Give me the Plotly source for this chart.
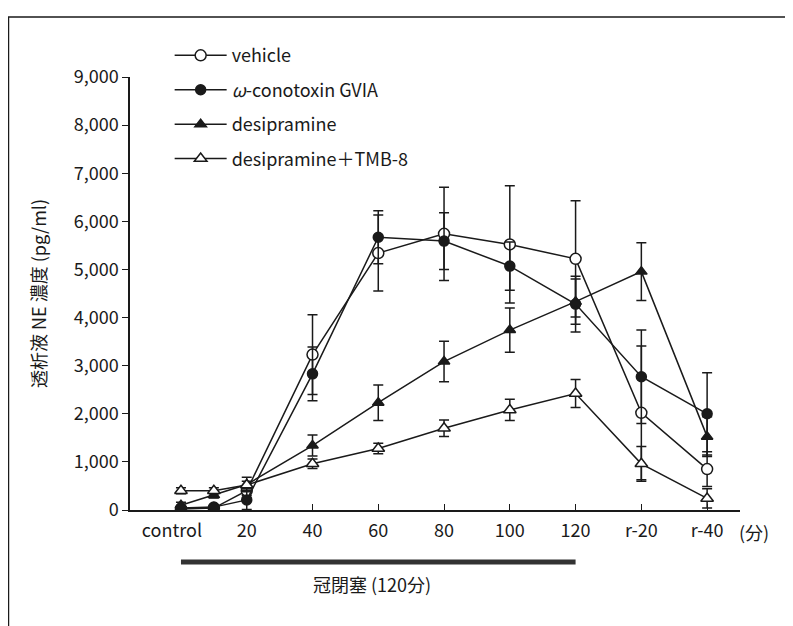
import plotly.graph_objects as go

# ---- data ----
times = [0, 10, 20, 40, 60, 80, 100, 120, 140, 160]
tick_vals = [0, 20, 40, 60, 80, 100, 120, 140, 160]
tick_text = ["control\u2002\u2002", "20", "40", "60", "80", "100", "120", "r-20", "r-40"]

vehicle = [20, 40, 400, 3230, 5340, 5740, 5520, 5220, 2020, 850]
vehicle_err = [40, 40, 100, 830, 790, 970, 1220, 1210, 1390, 360]

conotoxin = [40, 60, 210, 2830, 5670, 5590, 5070, 4280, 2770, 2000]
conotoxin_err = [40, 40, 200, 560, 550, 590, 500, 580, 970, 855]

desipramine = [100, 310, 530, 1340, 2230, 3085, 3740, 4330, 4955, 1525]
desipramine_err = [60, 60, 150, 220, 370, 420, 460, 470, 600, 415]

desi_tmb = [400, 400, 520, 960, 1280, 1700, 2080, 2420, 960, 240]
desi_tmb_err = [60, 60, 80, 100, 110, 170, 220, 290, 360, 200]

names = ["vehicle", "<i>ω</i>-conotoxin GVIA", "desipramine", "desipramine＋TMB-8"]
symbols = ["circle", "circle", "triangle-up", "triangle-up"]
filled = [False, True, True, False]
series = [(vehicle, vehicle_err), (conotoxin, conotoxin_err),
          (desipramine, desipramine_err), (desi_tmb, desi_tmb_err)]

FONT = "Noto Sans CJK JP, Noto Sans, sans-serif"
INK = "#1a1a1a"

fig = go.Figure()
for i, ((vals, errs), name, sym, fill) in enumerate(zip(series, names, symbols, filled)):
    fig.add_trace(go.Scatter(
        x=times, y=vals, name=name, mode="lines+markers",
        legendgroup=f"g{i}",
        line=dict(color=INK, width=1.5),
        marker=dict(symbol=sym, size=10 if fill else 11,
                    color=INK if fill else "white",
                    line=dict(color=INK, width=1.5)),
        error_y=dict(type="data", array=errs, visible=True,
                     color=INK, thickness=1.5, width=5),
    ))

# page body has an 8px margin, so the figure is sized to fit the window
fig.update_layout(
    width=785, height=618,
    margin=dict(l=122, r=53, t=69, b=116, autoexpand=False),
    paper_bgcolor="white", plot_bgcolor="white",
    font=dict(family=FONT, size=18, color=INK),
    showlegend=True,
    legend=dict(x=0.065, y=1.092, xanchor="left", yanchor="top",
                bgcolor="rgba(0,0,0,0)", font=dict(size=18, family=FONT),
                tracegroupgap=8, itemwidth=52),
    xaxis=dict(range=[-15.5, 170], tickvals=tick_vals, ticktext=tick_text,
               showgrid=False, zeroline=False, showline=True, linecolor=INK,
               linewidth=1.5, ticks="inside", ticklen=6, tickcolor=INK,
               tickfont=dict(size=18), automargin=False, ticklabelstandoff=4),
    yaxis=dict(range=[0, 9000], tickvals=list(range(0, 9001, 1000)),
               tickformat=",d", showgrid=False, zeroline=False, showline=True,
               linecolor=INK, linewidth=1.5, ticks="outside", ticklen=6,
               tickcolor=INK, tickfont=dict(size=18), automargin=False,
               title=dict(text="透析液 NE 濃度 (pg/ml)", font=dict(size=18),
                          standoff=22)),
)

# occlusion bar and labels
fig.add_shape(type="line", xref="x", yref="paper", x0=0, x1=120,
              y0=-0.12, y1=-0.12, line=dict(color="#333333", width=5))
fig.add_annotation(text="冠閉塞 (120分)", xref="x", yref="paper", x=58, y=-0.171,
                   xanchor="center", yanchor="middle",
                   showarrow=False, font=dict(size=18, family=FONT))
fig.add_annotation(text="(分)", xref="paper", yref="paper", x=0.995, y=-0.051,
                   xanchor="left", yanchor="middle",
                   showarrow=False, font=dict(size=18, family=FONT))
# outer frame
fig.add_shape(type="rect", xref="paper", yref="paper", x0=-0.1992, x1=1.2,
              y0=-0.3, y1=1.1386, line=dict(color=INK, width=1.5))

fig.write_html("out.html")
